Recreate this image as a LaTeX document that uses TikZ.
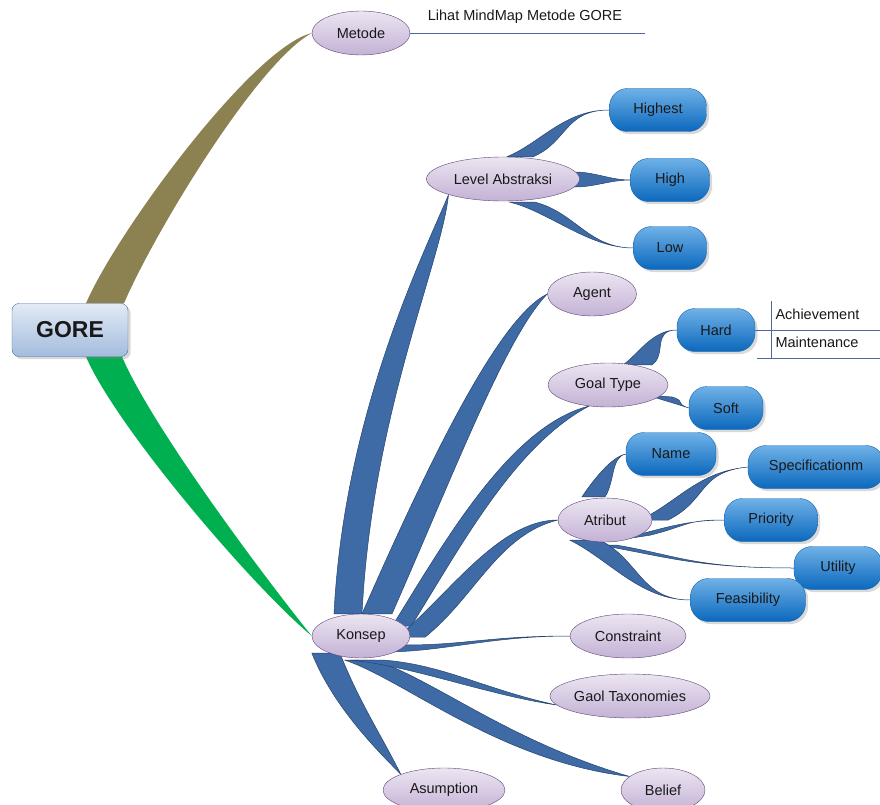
\documentclass[tikz,border=0pt]{standalone}
\usepackage{fontspec}
\setmainfont{Liberation Sans}
\usepackage{tikz}
\usepackage{xcolor}
\usetikzlibrary{shapes.geometric,shadows,backgrounds}

\definecolor{goreolive}{HTML}{8C8150}
\definecolor{goregreen}{HTML}{00B050}
\definecolor{goretop}{HTML}{E2EAF5}
\definecolor{gorebot}{HTML}{A3BCDD}
\definecolor{goreedge}{HTML}{4A6A98}
\definecolor{lavtop}{HTML}{ECE5F1}
\definecolor{lavbot}{HTML}{C3B2D5}
\definecolor{lavedge}{HTML}{5E4478}
\definecolor{leaftop}{HTML}{6FB1E8}
\definecolor{leafbot}{HTML}{0B68BC}
\definecolor{leafedge}{HTML}{1663AE}
\definecolor{twigfill}{HTML}{3E6BA6}
\definecolor{twigedge}{HTML}{27436C}
\definecolor{noteline}{HTML}{4F6A9A}

% tapered branch: [style]{base1}{base2}{tip}{start offset}{end offset}{end offset, second side}
\newcommand{\twig}[7][twigblue]{%
  \path[#1] (#2) .. controls +(#5) and +(#6) .. (#4) .. controls +(#7) and +(#5) .. (#3) -- cycle;}

\begin{document}
\begin{tikzpicture}[x=1pt, y=-1pt]
        \tikzstyle{every node}=[font=\fontsize{14.5}{17}\selectfont, text=black!90]
        \tikzstyle{topic}=[rectangle, rounded corners=7pt, draw=goreedge, top color=goretop, bottom color=gorebot, minimum width=116pt, minimum height=53pt, font=\fontsize{23}{26}\selectfont\bfseries, drop shadow={opacity=0.3}]
        \tikzstyle{concept}=[ellipse, draw=lavedge, top color=lavtop, bottom color=lavbot, inner sep=0pt, minimum height=44pt]
        \tikzstyle{leaf}=[rectangle, rounded corners=18pt, draw=leafedge, top color=leaftop, bottom color=leafbot, minimum height=43pt, drop shadow={opacity=0.3}]
        \tikzstyle{twigblue}=[fill=twigfill, draw=twigedge, line width=0.5pt]
        \tikzstyle{twigolive}=[fill=goreolive]
        \tikzstyle{twiggreen}=[fill=goregreen]
        \tikzstyle{note}=[draw=noteline, line width=0.8pt]

        \useasboundingbox (0,0) rectangle (880,805);

        % Nodes
        \node (gore) [topic] at (70,330) {GORE};
        \node (metode) [concept, minimum width=98pt] at (361,33) {Metode};
        \node (konsep) [concept, minimum width=98pt] at (361,636) {Konsep};

        \node (lvl) [concept, minimum width=153pt] at (503,179) {Level Abstraksi};
        \node (highest) [leaf, minimum width=97pt] at (658,110) {Highest};
        \node (high) [leaf, minimum width=79pt] at (670,180) {High};
        \node (low) [leaf, minimum width=73pt] at (670,248) {Low};

        \node (agent) [concept, minimum width=89pt] at (592,294) {Agent};

        \node (gtype) [concept, minimum width=120pt] at (608,385) {Goal Type};
        \node (hard) [leaf, minimum width=78pt] at (716,330) {Hard};
        \node (soft) [leaf, minimum width=74pt] at (726,408) {Soft};

        \node (atribut) [concept, minimum width=94pt] at (605,520) {Atribut};
        \node (name) [leaf, minimum width=90pt] at (671,454) {Name};
        \node (spec) [leaf, minimum width=136pt] at (816,467) {Specificationm};
        \node (prio) [leaf, minimum width=93pt] at (771,520) {Priority};
        \node (util) [leaf, minimum width=88pt] at (838,568) {Utility};
        \node (feas) [leaf, minimum width=115pt] at (748,600) {Feasibility};

        \node (constraint) [concept, minimum width=116pt] at (628,636) {Constraint};
        \node (gaol) [concept, minimum width=160pt] at (630,696) {Gaol Taxonomies};
        \node (asum) [concept, minimum width=122pt] at (444,790) {Asumption};
        \node (belief) [concept, minimum width=84pt] at (663,790) {Belief};

        \node (hint) at (525,17) {Lihat MindMap Metode GORE};
        \node (achieve) [anchor=west] at (772,314) {Achievement};
        \node (maint) [anchor=west] at (772,342) {Maintenance};
        \coordinate (hintend) at (645,33);
        \coordinate (hardend) at (880,330);
        \coordinate (splittop) at (771,301);
        \coordinate (splitbot) at (771,358);
        \coordinate (maintleft) at (757,358);
        \coordinate (maintend) at (880,358);

        % Edges
        \draw[note] (metode.east) -- (hintend);
        \draw[note] (hard.east) -- (hardend);
        \draw[note] (splittop) -- (splitbot);
        \draw[note] (maintleft) -- (maintend);

        \begin{scope}[on background layer]
        \twig[twigolive]{[shift={(16,0)}]gore.north}{[shift={(54,0)}]gore.north}{metode.west}{30,-70}{-60,15}{-55,30}
        \twig[twiggreen]{[shift={(16,0)}]gore.south}{[shift={(52,0)}]gore.south}{konsep.west}{30,70}{-60,-50}{-50,-62}

        \twig{[shift={(-27,0)}]konsep.north}{[shift={(1,0)}]konsep.north}{lvl.196}{10,-200}{-25,60}{-7,68}
        \twig{[shift={(1,0)}]konsep.north}{[shift={(31,0)}]konsep.north}{agent.west}{63,-143}{-50,24}{-41,42}
        \twig{[shift={(-18,-10)}]konsep.east}{[shift={(1,-10)}]konsep.east}{gtype.228}{50,-80}{-80,20}{-75,40}
        \twig{[shift={(-13,1)}]konsep.east}{[shift={(15,1)}]konsep.east}{atribut.west}{50,-40}{-60,0}{-60,15}
        \twig{[shift={(-27,16)}]konsep.east}{[shift={(-5,9)}]konsep.east}{constraint.west}{60,0}{-80,0}{-80,0}
        \twig{[shift={(-16,2)}]konsep.south}{[shift={(14,2)}]konsep.south}{belief.158}{60,20}{-130,-15}{-120,-35}
        \twig{[shift={(-11,2)}]konsep.south}{[shift={(24,2)}]konsep.south}{gaol.187}{60,5}{-70,-10}{-70,-15}
        \twig{[shift={(0,17)}]konsep.west}{[shift={(28,17)}]konsep.west}{asum.160}{20,50}{-30,-30}{-20,-40}

        \twig{[shift={(4,0)}]lvl.north}{[shift={(30,0)}]lvl.north}{highest.west}{35,-15}{-45,0}{-45,0}
        \twig{[shift={(-5,-7)}]lvl.east}{[shift={(-5,8)}]lvl.east}{high.west}{20,0}{-20,0}{-20,0}
        \twig{[shift={(7,1)}]lvl.south}{[shift={(32,1)}]lvl.south}{low.west}{40,10}{-45,0}{-45,0}

        \twig{[shift={(15,2)}]gtype.north}{[shift={(44,2)}]gtype.north}{hard.west}{15,-10}{-25,0}{-25,0}
        \twig{[shift={(-21,10)}]gtype.east}{[shift={(4,12)}]gtype.east}{soft.west}{15,5}{-15,-5}{-15,-5}

        \twig{[shift={(-23,-1)}]atribut.north}{[shift={(0,-1)}]atribut.north}{name.west}{10,-15}{-15,3}{-15,3}
        \twig{[shift={(-12,0)}]atribut.east}{[shift={(16,0)}]atribut.east}{spec.west}{40,-20}{-50,5}{-50,5}
        \twig{[shift={(12,-2)}]atribut.south}{[shift={(45,-7)}]atribut.south}{prio.west}{40,-10}{-40,0}{-40,0}
        \twig{[shift={(-5,3)}]atribut.south}{[shift={(12,3)}]atribut.south}{util.west}{60,10}{-100,0}{-100,0}
        \twig{[shift={(-35,-2)}]atribut.south}{[shift={(-5,-2)}]atribut.south}{feas.west}{40,20}{-50,0}{-50,0}
        \end{scope}

    \end{tikzpicture}
\end{document}
